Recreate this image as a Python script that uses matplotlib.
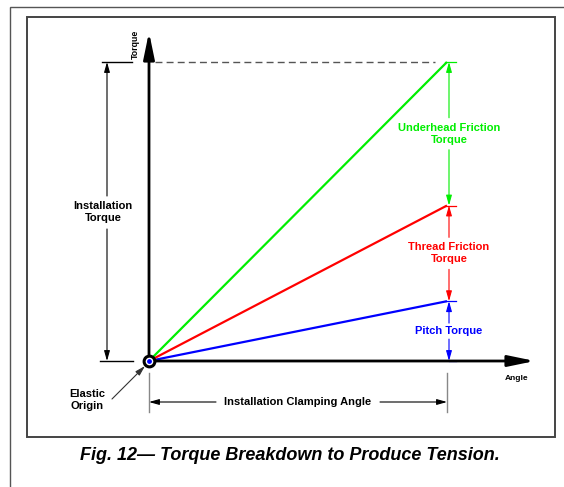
import matplotlib
matplotlib.use("Agg")
import matplotlib.pyplot as plt
from matplotlib.patches import Rectangle

# ---- data ----
angle_end = 1.0                      # installation clamping angle (normalised)
component_names = ["Pitch Torque", "Thread Friction\nTorque", "Underhead Friction\nTorque"]
component_values = [0.20, 0.32, 0.48]  # share of installation torque
component_colors = ["#0000ff", "#ff0000", "#00ee00"]

cum = []
s = 0.0
for v in component_values:
    s += v
    cum.append(s)
total = cum[-1]

W, H = 564, 487
fig = plt.figure(figsize=(W / 100, H / 100), dpi=100)
ax = fig.add_axes([0, 0, 1, 1])
# pixel geometry of the drawing area
X0, Y0, SX, SY = 149, 361, 298, 299
ax.set_xlim(-X0 / SX, (W - X0) / SX)
ax.set_ylim(-(H - Y0) / SY, Y0 / SY)
ax.axis("off")

def P(x, y):
    """pixel -> data"""
    return ((x - X0) / SX, (Y0 - y) / SY)

FONT = ["Liberation Sans", "DejaVu Sans"]
FS = 8

# frames
fig.patches.append(Rectangle((10 / W, -0.1), 1.2, 1 - 7 / H + 0.1, transform=fig.transFigure,
                             fill=False, ec="#555555", lw=1.0))
fig.patches.append(Rectangle((27 / W, 1 - 437 / H), (555 - 27) / W, (437 - 17) / H,
                             transform=fig.transFigure, fill=False, ec="#444444", lw=1.4))

# component lines
for c, col in zip(cum, component_colors):
    ax.plot([0, angle_end], [0, c], color=col, lw=1.6, solid_capstyle="butt", zorder=3)

# axes arrows
ax.annotate("", xy=(0, 1.10 * total), xytext=(0, 0),
            arrowprops=dict(arrowstyle="-|>,head_length=1.6,head_width=0.33", mutation_scale=10,
                            lw=2.0, color="black", shrinkA=0, shrinkB=0), zorder=4)
ax.annotate("", xy=(1.295 * angle_end, 0), xytext=(0, 0),
            arrowprops=dict(arrowstyle="-|>,head_length=1.6,head_width=0.33", mutation_scale=10,
                            lw=2.0, color="black", shrinkA=0, shrinkB=0), zorder=4)
ax.text(*P(135, 44), "Torque", rotation=90, ha="center", va="center", fontsize=6.3,
        fontweight="bold", family=FONT)
ax.text(*P(517, 379), "Angle", ha="center", va="center", fontsize=6,
        fontweight="bold", family=FONT)

# dashed line to top
ax.plot([0.02, angle_end - 0.04], [total, total], color="#555555", lw=1.0, ls=(0, (5, 3)))

small = dict(arrowstyle="-|>,head_length=0.6,head_width=0.17", mutation_scale=10,
             lw=0.8, shrinkA=0, shrinkB=0)

# left dimension (installation torque)
xl = P(107, 0)[0]
ax.plot([P(102, 0)[0], P(132, 0)[0]], [total, total], color="black", lw=1.0)
ax.plot([P(100, 0)[0], P(133, 0)[0]], [0, 0], color="black", lw=1.0)
ax.annotate("", xy=(xl, total), xytext=(xl, P(0, 196)[1]), arrowprops=dict(color="black", **small))
ax.annotate("", xy=(xl, 0), xytext=(xl, P(0, 229)[1]), arrowprops=dict(color="black", **small))
ax.text(*P(103, 212), "Installation\nTorque", ha="center", va="center", fontsize=FS,
        fontweight="bold", family=FONT, linespacing=1.25)

# bottom dimension (angle)
yb = P(0, 402)[1]
for xa in (0, angle_end):
    ax.plot([xa, xa], [P(0, 373)[1], P(0, 412)[1]], color="#888888", lw=1.0)
ax.annotate("", xy=(0, yb), xytext=(P(216, 0)[0], yb), arrowprops=dict(color="black", **small))
ax.annotate("", xy=(angle_end, yb), xytext=(P(380, 0)[0], yb), arrowprops=dict(color="black", **small))
ax.text(*P(298, 402), "Installation Clamping Angle", ha="center", va="center", fontsize=FS,
        fontweight="bold", family=FONT)

# right component dimensions
xr = P(449, 0)[0]
lows = [0.0] + cum[:-1]
for name, lo, hi, col in zip(component_names, lows, cum, component_colors):
    ax.plot([P(445, 0)[0], P(456, 0)[0]], [hi, hi], color=col, lw=0.9)
    mid = (lo + hi) / 2
    nl = name.count("\n") + 1
    half = (8 * nl) / SY
    ax.annotate("", xy=(xr, hi), xytext=(xr, mid + half), arrowprops=dict(color=col, **small))
    ax.annotate("", xy=(xr, lo), xytext=(xr, mid - half), arrowprops=dict(color=col, **small))
    ax.text(xr, mid, name, ha="center", va="center", fontsize=FS, fontweight="bold",
            family=FONT, color=col, linespacing=1.25)
ax.plot([xr, P(456, 0)[0]], [0, 0], color=component_colors[0], lw=0.9)

# elastic origin
ax.scatter([0], [0], s=60, facecolor="white", edgecolor="black", linewidth=2.2, zorder=6)
ax.scatter([0], [0], s=6, color="#0000ff", zorder=7)
ax.annotate("", xy=P(145, 366), xytext=P(112, 399),
            arrowprops=dict(color="#333333", **small))
ax.text(*P(87, 400), "Elastic\nOrigin", ha="center", va="center", fontsize=FS,
        fontweight="bold", family=FONT, linespacing=1.25)

# caption
fig.text(290 / W, 1 - 456 / H, "Fig. 12\u2014 Torque Breakdown to Produce Tension.",
         ha="center", va="center", fontsize=13, fontweight="bold", style="italic", family=FONT)

fig.savefig("out.png", dpi=100)
